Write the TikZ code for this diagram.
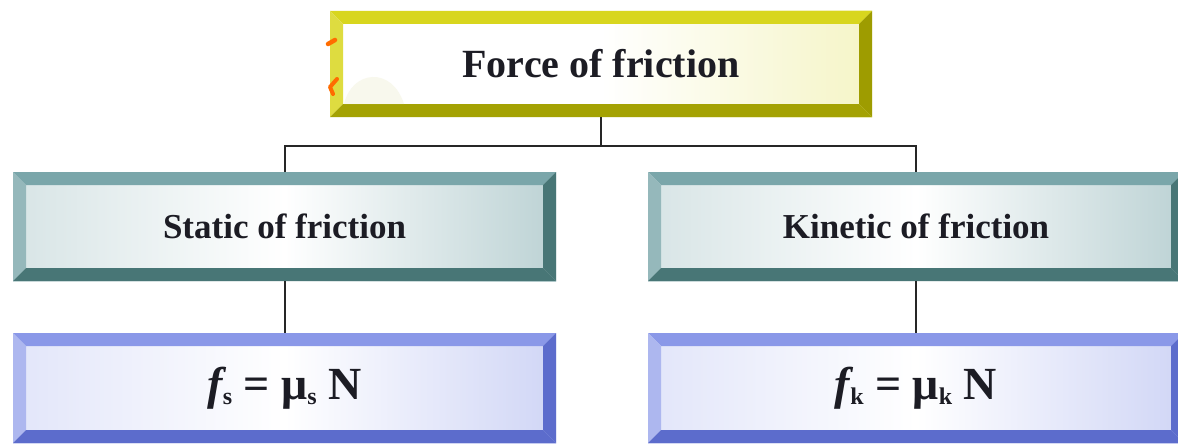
\documentclass[tikz,border=0pt]{standalone}
\usepackage{fontspec}
\setmainfont{Liberation Serif}
\usetikzlibrary{positioning}

\definecolor{yellowlt}{RGB}{216,214,30}
\definecolor{yellowdk}{RGB}{158,156,0}
\definecolor{teallt}{RGB}{122,166,170}
\definecolor{tealdk}{RGB}{72,118,118}
\definecolor{bluelt}{RGB}{138,152,232}
\definecolor{bluedk}{RGB}{92,108,204}
\definecolor{inktext}{RGB}{28,28,36}

\def\bw{13pt}
\newcommand{\bevelfaces}[4]{%
  \fill[#1] (path picture bounding box.north west) -- (path picture bounding box.north east)
    -- ([xshift=-\bw,yshift=-\bw]path picture bounding box.north east)
    -- ([xshift=\bw,yshift=-\bw]path picture bounding box.north west) -- cycle;
  \fill[#2] (path picture bounding box.north west) -- ([xshift=\bw,yshift=-\bw]path picture bounding box.north west)
    -- ([xshift=\bw,yshift=\bw]path picture bounding box.south west)
    -- (path picture bounding box.south west) -- cycle;
  \fill[#3] (path picture bounding box.north east) -- ([xshift=-\bw,yshift=-\bw]path picture bounding box.north east)
    -- ([xshift=-\bw,yshift=\bw]path picture bounding box.south east)
    -- (path picture bounding box.south east) -- cycle;
  \fill[#4] (path picture bounding box.south west) -- ([xshift=\bw,yshift=\bw]path picture bounding box.south west)
    -- ([xshift=-\bw,yshift=\bw]path picture bounding box.south east)
    -- (path picture bounding box.south east) -- cycle;
}

\tikzset{
  bevelbox/.style={inner sep=0pt, outer sep=0pt, text=inktext, font=\bfseries},
  forcebox/.style={bevelbox, minimum width=542pt, minimum height=106pt,
    left color=white, right color=yellowlt!25!white, middle color=white,
    path picture={\bevelfaces{yellowlt}{yellowlt!85!white}{yellowdk}{yellowdk!90!yellowlt}},
    font=\bfseries\fontsize{40}{44}\selectfont},
  kindbox/.style={bevelbox, minimum height=109pt,
    left color=teallt!30!white, right color=teallt!50!white, middle color=white,
    path picture={\bevelfaces{teallt}{teallt!80!white}{tealdk}{tealdk}},
    font=\bfseries\fontsize{35}{40}\selectfont},
  lawbox/.style={bevelbox, minimum height=110pt,
    left color=bluelt!25!white, right color=bluelt!40!white, middle color=white,
    path picture={\bevelfaces{bluelt}{bluelt!70!white}{bluedk}{bluedk}},
    font=\bfseries\fontsize{46}{50}\selectfont},
  link/.style={line width=2pt, black!85}
}

\newcommand{\lowsub}[1]{\raisebox{-0.12em}{\fontsize{24}{24}\selectfont #1}}

\begin{document}
\begin{tikzpicture}[x=1pt, y=-1pt]
\useasboundingbox (0,0) rectangle (1178,444);

\node[forcebox] (force) at (601,64) {Force of friction};
\node[kindbox, minimum width=543pt] (static) at (284.5,226.5) {Static of friction};
\node[kindbox, minimum width=536pt] (kinetic) at (916,226.5) {Kinetic of friction};
\node[lawbox, minimum width=543pt] (fs) at (284.5,388) {{\itshape f}\lowsub{s} = μ\lowsub{s} N};
\node[lawbox, minimum width=536pt] (fk) at (916,388) {{\itshape f}\lowsub{k} = μ\lowsub{k} N};

\coordinate (split) at (601,146);
\draw[link] (force.south) -- (split);
\draw[link] (static.north) |- (split) -| (kinetic.north);
\draw[link] (static.south) -- (fs.north);
\draw[link] (kinetic.south) -- (fk.north);

% clip-art bits on the top box
\fill[yellowdk!20!white, opacity=0.35] (344,104) .. controls (352,70) and (392,66) .. (404,104) -- cycle;
\draw[orange!85!red, line width=4.5pt, line cap=round] (328,44) -- (335,40);
\draw[orange!85!red, line width=4pt, line cap=round, line join=round] (337,79) -- (330,87) -- (333,94);
\end{tikzpicture}
\end{document}
